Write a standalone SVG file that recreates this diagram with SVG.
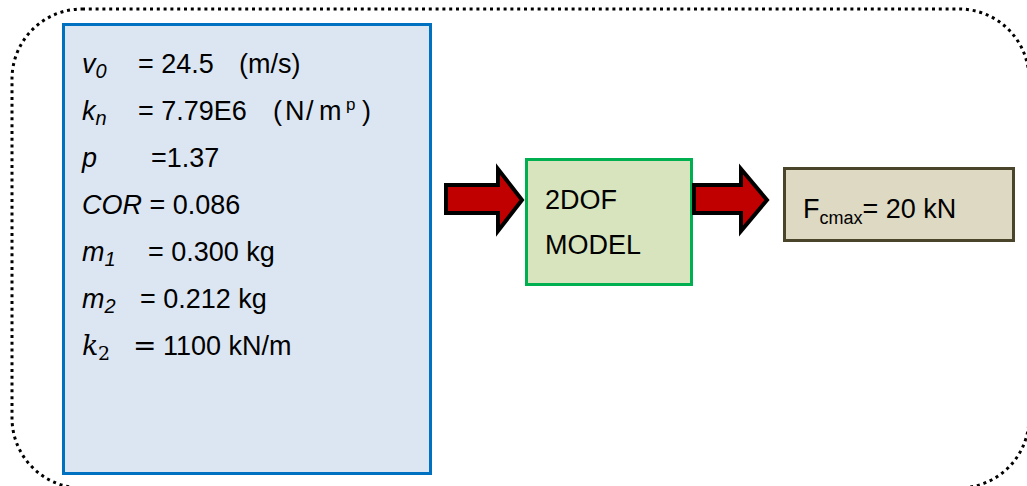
<svg xmlns="http://www.w3.org/2000/svg" width="1027" height="486" viewBox="0 0 1027 486">
<style>
text{font-family:"Liberation Sans",Arial,sans-serif;font-size:27px;fill:#000}
.i{font-style:italic}
.sub{font-size:20px}
.m{font-family:"DejaVu Serif","Liberation Serif",serif}
.arrow{fill:#C00000;stroke:#000;stroke-width:4;stroke-linejoin:miter}
</style>
<rect id="frame" x="12" y="9" width="1017" height="479" rx="70" ry="70" fill="none" stroke="#000" stroke-width="3" stroke-dasharray="3 3.8"/>
<g id="params">
<rect x="63.5" y="24.5" width="367" height="449" fill="#DCE6F2" stroke="#0070C0" stroke-width="3"/>
<text x="82" y="73"><tspan class="i">v</tspan><tspan class="i sub" dy="5">0</tspan><tspan x="138" dy="-5">= 24.5</tspan><tspan x="239">(m/s)</tspan></text>
<text x="82" y="120"><tspan class="i">k</tspan><tspan class="i sub" dy="5">n</tspan><tspan x="138" dy="-5">= 7.79E6</tspan><tspan x="273">(</tspan><tspan x="285">N</tspan><tspan x="306">/</tspan><tspan x="319">m</tspan><tspan x="346" dy="-10" font-size="17">p</tspan><tspan x="362" dy="10">)</tspan></text>
<text x="82" y="167"><tspan class="i">p</tspan><tspan x="151">=1.37</tspan></text>
<text x="82" y="214"><tspan class="i">COR</tspan> = 0.086</text>
<text x="82" y="261"><tspan class="i">m</tspan><tspan class="i sub" dy="5">1</tspan><tspan x="148" dy="-5">= 0.300 kg</tspan></text>
<text x="82" y="308"><tspan class="i">m</tspan><tspan class="i sub" dy="5">2</tspan><tspan x="140" dy="-5">= 0.212 kg</tspan></text>
<text x="82" y="355"><tspan class="m i" font-size="27">k</tspan><tspan class="m" font-size="19" x="98" dy="5">2</tspan><tspan class="m" font-size="28" x="133" dy="-5">=</tspan><tspan x="163">1100 kN/m</tspan></text>
</g>
<g id="model">
<rect x="526.5" y="159.5" width="165" height="125" fill="#D7E4BD" stroke="#00B050" stroke-width="3"/>
<text x="545" y="209">2DOF</text>
<text x="545" y="254">MODEL</text>
</g>
<g id="result">
<rect x="784.5" y="168.5" width="229" height="72" fill="#DDD9C3" stroke="#4A452A" stroke-width="3"/>
<text x="803" y="218">F<tspan font-size="18" dy="6">cmax</tspan><tspan dy="-6">= 20 kN</tspan></text>
</g>
<g id="connectors">
<polygon class="arrow" points="446,185 498,185 498,169 522,200 498,231 498,213 446,213"/>
<polygon class="arrow" points="694,185 741,185 741,169 767,200 741,231 741,213 694,213"/>
</g>
</svg>
